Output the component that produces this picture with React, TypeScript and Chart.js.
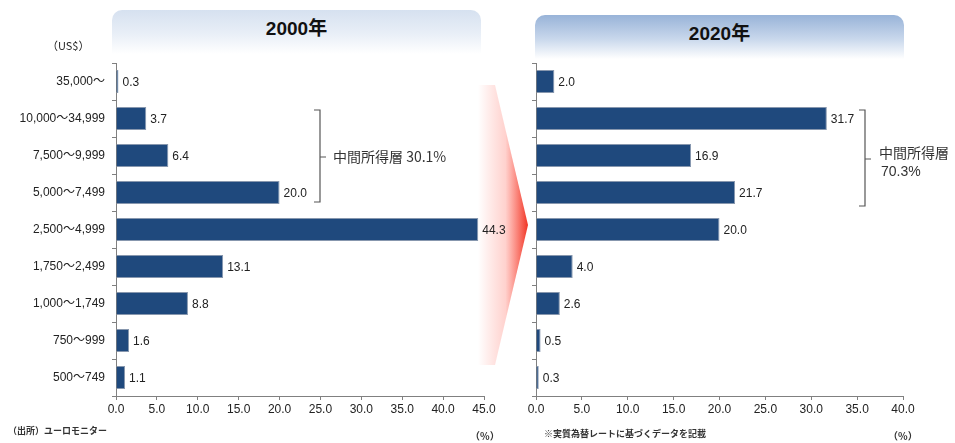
import React, { useEffect, useRef } from "react";
import { Chart, registerables } from "chart.js";

Chart.register(...registerables);

const categories = [
  "35,000～",
  "10,000～34,999",
  "7,500～9,999",
  "5,000～7,499",
  "2,500～4,999",
  "1,750～2,499",
  "1,000～1,749",
  "750～999",
  "500～749",
];
const values2000 = [0.3, 3.7, 6.4, 20.0, 44.3, 13.1, 8.8, 1.6, 1.1];
const values2020 = [2.0, 31.7, 16.9, 21.7, 20.0, 4.0, 2.6, 0.5, 0.3];
const max2000 = 45;
const max2020 = 40;
const tickStep = 5;

const FONT = "'Liberation Sans', Arial, 'Noto Sans CJK JP', sans-serif";
const JPFONT = "'Noto Sans CJK JP', 'Liberation Sans', sans-serif";
const BAR_FILL = "#1F497D";
const BAR_BORDER = "#8797ae";
const AXIS = "#808080";

const valueLabels = {
  id: "valueLabels",
  afterDatasetsDraw(chart: any) {
    const ctx = chart.ctx;
    const meta = chart.getDatasetMeta(0);
    const data = chart.data.datasets[0].data as number[];
    ctx.save();
    ctx.font = `12px ${FONT}`;
    ctx.fillStyle = "#222";
    ctx.textAlign = "left";
    ctx.textBaseline = "middle";
    meta.data.forEach((el: any, i: number) => {
      ctx.fillText(data[i].toFixed(1), el.x + 4, el.y + 1);
    });
    ctx.restore();
  },
};

function makeConfig(values: number[], max: number, showLabels: boolean, yWidth: number, padRight: number): any {
  return {
    type: "bar",
    data: {
      labels: categories,
      datasets: [
        {
          data: values,
          backgroundColor: BAR_FILL,
          borderColor: BAR_BORDER,
          borderWidth: 1,
          barPercentage: 0.62,
          categoryPercentage: 1,
        },
      ],
    },
    options: {
      indexAxis: "y",
      animation: false,
      responsive: false,
      maintainAspectRatio: false,
      layout: { padding: { top: 63, right: padRight, bottom: 17, left: 0 } },
      plugins: { legend: { display: false }, tooltip: { enabled: false } },
      scales: {
        x: {
          min: 0,
          max: max,
          afterFit: (s: any) => {
            s.height = 30;
          },
          border: { color: AXIS, width: 1 },
          grid: { drawOnChartArea: false, drawTicks: true, tickLength: 4, color: AXIS },
          ticks: {
            stepSize: tickStep,
            padding: 2,
            color: "#222",
            font: { family: FONT, size: 12 },
            callback: (v: any) => Number(v).toFixed(1),
          },
        },
        y: {
          afterFit: (s: any) => {
            s.width = yWidth;
          },
          border: { color: AXIS, width: 1 },
          grid: { offset: true, drawOnChartArea: false, drawTicks: true, tickLength: 4, color: AXIS },
          ticks: {
            display: showLabels,
            padding: 7,
            color: "#222",
            font: { family: FONT, size: 12 },
          },
        },
      },
    },
    plugins: [valueLabels],
  };
}

function BarCanvas(props: { values: number[]; max: number; showLabels: boolean; yWidth: number; padRight: number; left: number; width: number }) {
  const ref = useRef<HTMLCanvasElement | null>(null);
  useEffect(() => {
    if (!ref.current) return;
    const chart = new Chart(ref.current, makeConfig(props.values, props.max, props.showLabels, props.yWidth, props.padRight));
    return () => chart.destroy();
  }, []);
  return (
    <canvas
      ref={ref}
      width={props.width}
      height={443}
      style={{ position: "absolute", left: props.left, top: 0, width: props.width, height: 443 }}
    />
  );
}

const txt = (extra: React.CSSProperties): React.CSSProperties => ({
  position: "absolute",
  whiteSpace: "nowrap",
  fontFamily: JPFONT,
  color: "#222",
  lineHeight: 1,
  ...extra,
});

export default function App() {
  return (
    <div style={{ position: "absolute", left: 0, top: 0, width: 955, height: 443, background: "#fff", overflow: "hidden" }}>
      {/* title boxes */}
      <div
        style={{
          position: "absolute",
          left: 112,
          top: 10,
          width: 369,
          height: 44,
          borderRadius: "10px 10px 0 0",
          background: "linear-gradient(to bottom, #d6e1f0 0%, #e9eff7 55%, #ffffff 100%)",
        }}
      />
      <div style={txt({ left: 112, top: 17, width: 369, textAlign: "center", fontSize: 19, fontWeight: 700, color: "#111", fontFamily: FONT })}>
        2000<span style={{ fontFamily: JPFONT }}>年</span>
      </div>
      <div
        style={{
          position: "absolute",
          left: 535,
          top: 15,
          width: 369,
          height: 44,
          borderRadius: "10px 10px 0 0",
          background: "linear-gradient(to bottom, #98b3d8 0%, #c9d8ec 55%, #ffffff 100%)",
        }}
      />
      <div style={txt({ left: 535, top: 22, width: 369, textAlign: "center", fontSize: 19, fontWeight: 700, color: "#111", fontFamily: FONT })}>
        2020<span style={{ fontFamily: JPFONT }}>年</span>
      </div>

      {/* arrow */}
      <svg width={955} height={443} style={{ position: "absolute", left: 0, top: 0 }}>
        <defs>
          <linearGradient id="arr" x1="478" y1="0" x2="528" y2="0" gradientUnits="userSpaceOnUse">
            <stop offset="0" stopColor="#ff3b2a" stopOpacity="0" />
            <stop offset="0.55" stopColor="#ff4a3a" stopOpacity="0.25" />
            <stop offset="1" stopColor="#f03424" stopOpacity="1" />
          </linearGradient>
        </defs>
        <polygon points="478,85 495,85 528,225 495,365 478,365" fill="url(#arr)" />
        {/* braces */}
        <path d="M314,110 L320,110 L320,202 L314,202 M320,157 L326,157" stroke="#555" strokeWidth={1.2} fill="none" />
        <path d="M859,110 L865,110 L865,206 L859,206 M865,159 L871,159" stroke="#555" strokeWidth={1.2} fill="none" />
      </svg>

      <BarCanvas values={values2000} max={max2000} showLabels={true} yWidth={116} padRight={36} left={0} width={520} />
      <BarCanvas values={values2020} max={max2020} showLabels={false} yWidth={41} padRight={52} left={495} width={460} />

      <div style={txt({ left: 47, top: 40, fontSize: 11 })}>（US$）</div>
      <div style={txt({ left: 333, top: 149, fontSize: 14, color: "#333" })}>中間所得層 30.1%</div>
      <div style={txt({ left: 879, top: 145, fontSize: 14, color: "#333" })}>中間所得層</div>
      <div style={txt({ left: 881, top: 164, fontSize: 14, color: "#333", fontFamily: FONT })}>70.3%</div>

      <div style={txt({ left: 8, top: 426, fontSize: 9, fontWeight: 700, color: "#333" })}>（出所）ユーロモニター</div>
      <div style={txt({ left: 470, top: 431, fontSize: 10, fontWeight: 700, color: "#333" })}>（%）</div>
      <div style={txt({ left: 544, top: 429, fontSize: 9, fontWeight: 700, color: "#333" })}>※実質為替レートに基づくデータを記載</div>
      <div style={txt({ left: 888, top: 431, fontSize: 10, fontWeight: 700, color: "#333" })}>（%）</div>
    </div>
  );
}
